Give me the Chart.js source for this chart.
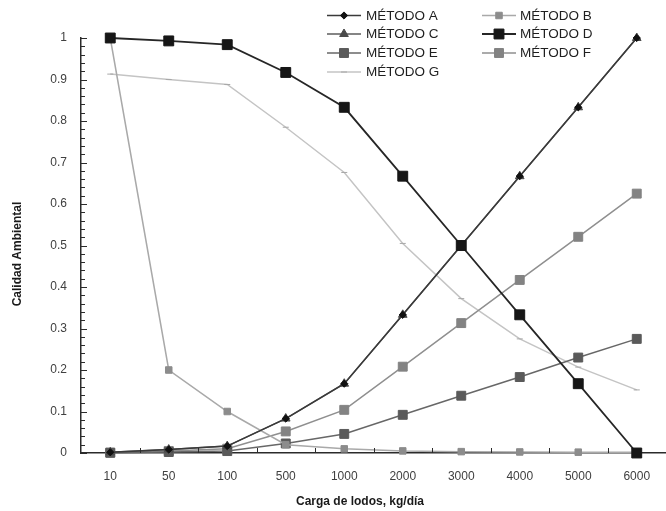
<!DOCTYPE html>
<html>
<head>
<meta charset="utf-8">
<script src="https://cdn.jsdelivr.net/npm/chart.js@4"></script>
<style>
  html, body { margin: 0; padding: 0; background: #ffffff; }
  #wrap { width: 666px; height: 511px; position: relative; }
</style>
</head>
<body>
<div id="wrap"><canvas id="c" width="666" height="511"></canvas></div>
<script>
// Sludge load categories (kg/día)
const categories = ['10', '50', '100', '500', '1000', '2000', '3000', '4000', '5000', '6000'];

// Environmental quality per method
const metodoA = [0.0017, 0.0083, 0.0167, 0.083, 0.167, 0.333, 0.5, 0.667, 0.833, 1.0];
const metodoB = [1.0, 0.2, 0.1, 0.02, 0.01, 0.005, 0.0033, 0.0025, 0.002, 0.0017];
const metodoC = [0.0017, 0.0083, 0.0167, 0.083, 0.167, 0.333, 0.5, 0.667, 0.833, 1.0];
const metodoD = [1.0, 0.993, 0.984, 0.917, 0.833, 0.667, 0.5, 0.333, 0.167, 0.0];
const metodoE = [0.0005, 0.0023, 0.0046, 0.023, 0.046, 0.092, 0.138, 0.183, 0.23, 0.275];
const metodoF = [0.001, 0.005, 0.0104, 0.052, 0.104, 0.208, 0.313, 0.417, 0.521, 0.625];
const metodoG = [0.913, 0.9, 0.888, 0.785, 0.676, 0.505, 0.372, 0.275, 0.207, 0.152];

const seriesNames = ['MÉTODO A', 'MÉTODO B', 'MÉTODO C', 'MÉTODO D', 'MÉTODO E', 'MÉTODO F', 'MÉTODO G'];

const yTickLabels = ['0', '0.1', '0.2', '0.3', '0.4', '0.5', '0.6', '0.7', '0.8', '0.9', '1'];
const xTitle = 'Carga de lodos, kg/día';
const yTitle = 'Calidad Ambiental';

const AXIS = '#2b2b2b';
const FAMILY = '"Liberation Sans", Arial, sans-serif';
const TITLE_FONT = 'bold 12px ' + FAMILY;

function ds(label, data, line, fill, style, radius, width, order) {
  return {
    label: label,
    data: data,
    borderColor: line,
    backgroundColor: fill,
    pointBackgroundColor: fill,
    pointBorderColor: fill,
    pointBorderWidth: 1,
    pointStyle: style,
    pointRadius: radius,
    borderWidth: width,
    order: order,
    tension: 0,
    clip: false,
    fill: false
  };
}

const datasets = [
  ds(seriesNames[0], metodoA, '#3a3a3a', '#111111', 'rectRot', 3.6, 1.5, 0),
  ds(seriesNames[1], metodoB, '#a9a9a9', '#8c8c8c', 'rect', 4.6, 1.5, 1),
  ds(seriesNames[2], metodoC, '#5c5c5c', '#4a4a4a', 'triangle', 5, 1.5, 2),
  ds(seriesNames[3], metodoD, '#262626', '#161616', 'rect', 7, 1.8, -1),
  ds(seriesNames[4], metodoE, '#676767', '#5a5a5a', 'rect', 6.3, 1.5, 4),
  ds(seriesNames[5], metodoF, '#8f8f8f', '#838383', 'rect', 6.3, 1.5, 5),
  ds(seriesNames[6], metodoG, '#c4c4c4', '#a8a8a8', 'line', 3, 1.5, 6)
];

function marker(ctx, style, radius, x, y) {
  if (Chart.helpers && Chart.helpers.drawPoint) {
    Chart.helpers.drawPoint(ctx, { pointStyle: style, radius: radius, rotation: 0, borderWidth: 1 }, x, y);
  }
}

// Inward tick marks on both axes
const tickMarks = {
  id: 'tickMarks',
  afterDatasetsDraw(chart) {
    const ctx = chart.ctx;
    const area = chart.chartArea;
    const ys = chart.scales.y;
    const xs = chart.scales.x;
    ctx.save();
    ctx.strokeStyle = AXIS;
    ctx.lineWidth = 1;
    for (let k = 0; k <= 50; k++) {
      const py = Math.round(ys.getPixelForValue(k / 50)) + 0.5;
      const len = (k % 5 === 0) ? 6 : 4;
      ctx.beginPath();
      ctx.moveTo(area.left, py);
      ctx.lineTo(area.left + len, py);
      ctx.stroke();
    }
    const n = categories.length;
    for (let i = 1; i < n; i++) {
      const px = Math.round((xs.getPixelForValue(i - 1) + xs.getPixelForValue(i)) / 2) + 0.5;
      ctx.beginPath();
      ctx.moveTo(px, area.bottom);
      ctx.lineTo(px, area.bottom - 5);
      ctx.stroke();
    }
    ctx.restore();
  }
};

// Axis titles
const axisTitles = {
  id: 'axisTitles',
  afterDraw(chart) {
    const ctx = chart.ctx;
    ctx.save();
    ctx.fillStyle = '#1a1a1a';
    ctx.font = TITLE_FONT;
    ctx.textAlign = 'center';
    ctx.textBaseline = 'middle';
    ctx.fillText(xTitle, 360, 502);
    ctx.translate(18, 254);
    ctx.rotate(-Math.PI / 2);
    ctx.fillText(yTitle, 0, 0);
    ctx.restore();
  }
};

// Two-column legend in the upper right
const legendBox = {
  id: 'legendBox',
  afterDraw(chart) {
    const ctx = chart.ctx;
    const rows = [15.5, 34, 53, 72];
    const cols = [{ x: 327, tx: 366 }, { x: 482, tx: 520 }];
    ctx.save();
    chart.data.datasets.forEach((d, i) => {
      const col = cols[i % 2];
      const y = rows[Math.floor(i / 2)];
      ctx.strokeStyle = d.borderColor;
      ctx.lineWidth = d.borderWidth;
      ctx.beginPath();
      ctx.moveTo(col.x, y);
      ctx.lineTo(col.x + 34, y);
      ctx.stroke();
      ctx.fillStyle = d.pointBackgroundColor;
      ctx.strokeStyle = d.pointBorderColor;
      ctx.lineWidth = 1;
      marker(ctx, d.pointStyle, d.pointRadius, col.x + 17, y);
      ctx.fillStyle = '#1f1f1f';
      ctx.font = '13.5px ' + FAMILY;
      ctx.textAlign = 'left';
      ctx.textBaseline = 'middle';
      ctx.fillText(d.label, col.tx, y + 0.5);
    });
    ctx.restore();
  }
};

new Chart(document.getElementById('c'), {
  type: 'line',
  data: { labels: categories, datasets: datasets },
  options: {
    responsive: false,
    animation: false,
    events: [],
    layout: { autoPadding: false, padding: { top: 38, right: 0, left: 0, bottom: 0 } },
    plugins: { legend: { display: false }, tooltip: { enabled: false }, title: { display: false } },
    scales: {
      x: {
        type: 'category',
        offset: true,
        grid: { display: false, drawTicks: false },
        border: { display: true, color: AXIS, width: 1.5 },
        ticks: {
          color: '#404040',
          font: { family: FAMILY, size: 12 },
          padding: 16,
          maxRotation: 0,
          autoSkip: false
        },
        afterFit(scale) {
          scale.height = 58;
          scale.paddingLeft = 0;
          scale.paddingRight = 0;
        }
      },
      y: {
        min: 0,
        max: 1,
        grid: { display: false, drawTicks: false },
        border: { display: true, color: AXIS, width: 1.5 },
        ticks: {
          stepSize: 0.1,
          color: '#404040',
          font: { family: FAMILY, size: 12 },
          padding: 14,
          autoSkip: false,
          callback: function (v) { return yTickLabels[Math.round(v * 10)]; }
        },
        afterFit(scale) {
          scale.width = 81;
          scale.paddingTop = 0;
          scale.paddingBottom = 0;
        }
      }
    }
  },
  plugins: [tickMarks, axisTitles, legendBox]
});
</script>
</body>
</html>
